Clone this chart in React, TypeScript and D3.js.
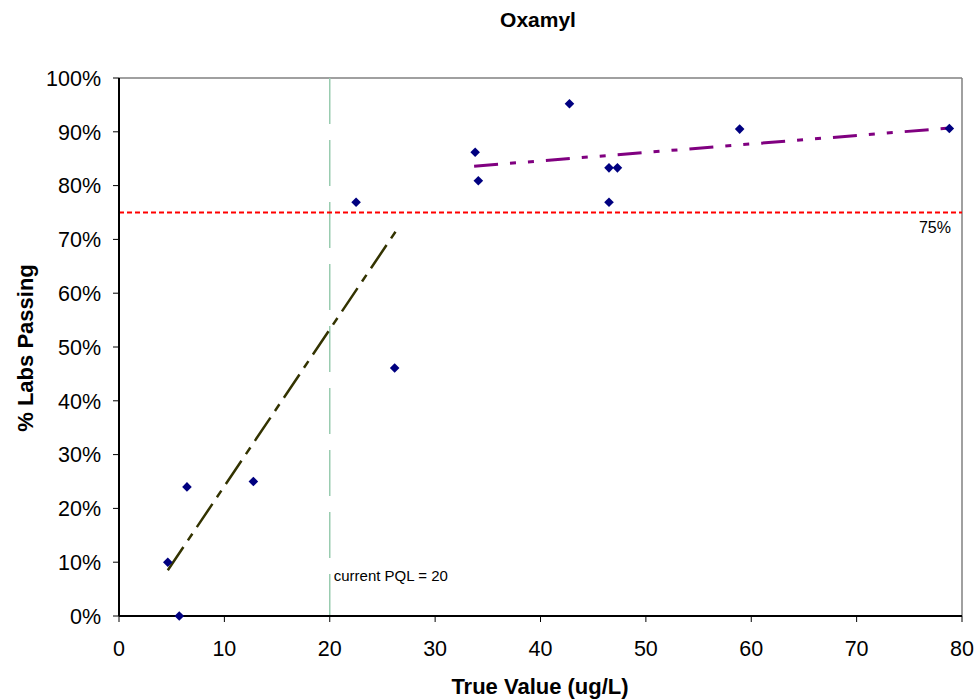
import React from "react";
import * as d3 from "d3";

const trueValues = [4.63, 5.72, 6.45, 12.75, 22.5, 26.16, 33.8, 34.1, 42.75, 46.5, 47.3, 46.5, 58.9, 78.8];
const pctPassing = [10.0, 0.0, 24.0, 25.0, 76.9, 46.1, 86.2, 80.9, 95.2, 83.3, 83.3, 76.9, 90.5, 90.6];

const lowTrendX = [4.63, 26.3];
const lowTrendY = [8.5, 71.6];
const highTrendX = [33.7, 78.8];
const highTrendY = [83.6, 90.7];

const xTicks = [0, 10, 20, 30, 40, 50, 60, 70, 80];
const yTicks = [0, 10, 20, 30, 40, 50, 60, 70, 80, 90, 100];

const pqlValue = 20;
const passLevel = 75;

const title = "Oxamyl";
const xTitle = "True Value (ug/L)";
const yTitle = "% Labs Passing";

export default function App() {
  const W = 976, H = 700;
  const left = 119, right = 962, top = 78, bottom = 616;
  const x = d3.scaleLinear().domain([0, 80]).range([left, right]);
  const y = d3.scaleLinear().domain([0, 100]).range([bottom, top]);
  const line = d3.line<[number, number]>().x((d) => x(d[0])).y((d) => y(d[1]));
  const lowPts: [number, number][] = lowTrendX.map((v, i) => [v, lowTrendY[i]]);
  const highPts: [number, number][] = highTrendX.map((v, i) => [v, highTrendY[i]]);
  const font = "Arial, 'Liberation Sans', sans-serif";
  const r = 4.8;
  const diamond = `M0,${-r}L${r},0L0,${r}L${-r},0Z`;

  return (
    <svg width={W} height={H} style={{ position: "absolute", left: 0, top: 0, background: "#fff" }} fontFamily={font}>
      <rect x={0} y={0} width={W} height={H} fill="#fff" />
      <text x={538} y={27} textAnchor="middle" fontSize={21} fontWeight="bold">{title}</text>

      {/* plot border top/right */}
      <line x1={left} x2={right} y1={top} y2={top} stroke="#808080" strokeWidth={1.5} />
      <line x1={right} x2={right} y1={top} y2={bottom} stroke="#808080" strokeWidth={1.5} />

      {/* PQL vertical line */}
      <line x1={x(pqlValue)} x2={x(pqlValue)} y1={top} y2={bottom} stroke="#99CCB0" strokeWidth={1.5} strokeDasharray="46,16" />
      <text x={x(pqlValue) + 4} y={581} fontSize={15}>current PQL = {pqlValue}</text>

      {/* 75% line */}
      <line x1={left} x2={right} y1={y(passLevel)} y2={y(passLevel)} stroke="#FF0000" strokeWidth={2} strokeDasharray="5,3" />
      <text x={951} y={233} textAnchor="end" fontSize={16}>{passLevel}%</text>

      {/* trendlines */}
      <path d={line(lowPts) || ""} fill="none" stroke="#333300" strokeWidth={2.5} strokeDasharray="28,8,8,8" />
      <path d={line(highPts) || ""} fill="none" stroke="#800080" strokeWidth={3} strokeDasharray="24,12,6,12,6,12" />

      {/* axes */}
      <line x1={left} x2={left} y1={top} y2={bottom} stroke="#000" strokeWidth={2} />
      <line x1={left} x2={right} y1={bottom} y2={bottom} stroke="#000" strokeWidth={2} />
      {yTicks.map((t) => (
        <g key={"y" + t}>
          <line x1={left - 6} x2={left} y1={y(t)} y2={y(t)} stroke="#000" strokeWidth={1} />
          <text x={101} y={y(t)} dy="0.36em" textAnchor="end" fontSize={21.5}>{t}%</text>
        </g>
      ))}
      {xTicks.map((t) => (
        <g key={"x" + t}>
          <line x1={x(t)} x2={x(t)} y1={bottom} y2={bottom + 6} stroke="#000" strokeWidth={1} />
          <text x={x(t)} y={656} textAnchor="middle" fontSize={21.5}>{t}</text>
        </g>
      ))}

      {/* points */}
      {trueValues.map((v, i) => (
        <path key={"p" + i} d={diamond} transform={`translate(${x(v)},${y(pctPassing[i])})`} fill="#000080" />
      ))}

      <text x={540} y={694} textAnchor="middle" fontSize={22} fontWeight="bold">{xTitle}</text>
      <text transform="translate(33,348) rotate(-90)" textAnchor="middle" fontSize={22} fontWeight="bold">{yTitle}</text>
    </svg>
  );
}
